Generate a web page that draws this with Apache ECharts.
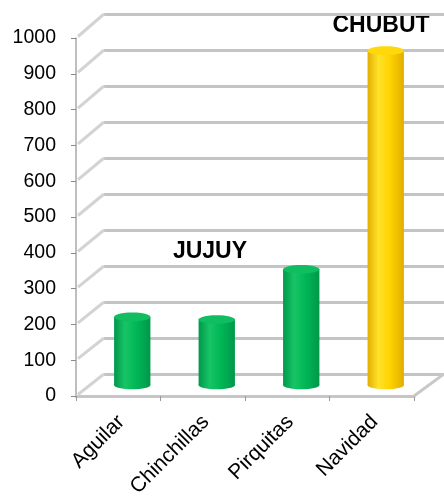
<!DOCTYPE html>
<html>
<head>
<meta charset="utf-8">
<style>html,body{margin:0;padding:0;background:#fff;}#c{width:444px;height:500px;}</style>
<script src="https://cdn.jsdelivr.net/npm/echarts@6/dist/echarts.min.js"></script>
</head>
<body>
<div id="c"></div>
<script>
const categories = ['Aguilar', 'Chinchillas', 'Pirquitas', 'Navidad'];
const values = [190, 183, 323, 934];
const provinces = ['JUJUY', 'JUJUY', 'JUJUY', 'CHUBUT'];
const yTicks = [0, 100, 200, 300, 400, 500, 600, 700, 800, 900, 1000];

// layout / style constants
const FX = 76, FY = 38, W = 338, H = 358, DX = 28, DY = 22, BH = 360;
const FONT = '"Liberation Sans", Arial, sans-serif';
const palette = {
  JUJUY: { dark: '#00984a', mid: '#00b857', light: '#18c466', top: '#10bd60' },
  CHUBUT: { dark: '#e2ae00', mid: '#ffd400', light: '#ffe22a', top: '#ffd80c' }
};

const chart = echarts.init(document.getElementById('c'), null, { renderer: 'canvas' });

function hiddenCat(gi) {
  return { type: 'category', gridIndex: gi, data: categories, axisLine: { show: false }, axisTick: { show: false }, axisLabel: { show: false }, splitLine: { show: false } };
}
function hiddenVal(gi) {
  return { type: 'value', gridIndex: gi, min: 0, max: 1000, interval: 100, axisLine: { show: false }, axisTick: { show: false }, axisLabel: { show: false }, splitLine: { show: false } };
}

const option = {
  animation: false,
  backgroundColor: '#ffffff',
  grid: [
    { left: FX, top: FY, width: W, height: H },
    { left: FX + DX, top: FY + H - DY - BH, width: W + 4, height: BH },
    { left: FX + DX / 2, top: FY - DY / 2, width: W, height: H },
    { left: FX + 3, top: FY, width: W, height: H }
  ],
  xAxis: [
    {
      type: 'category', gridIndex: 0, data: categories,
      axisLine: { show: true, lineStyle: { color: '#c6c6c6', width: 3 } },
      axisTick: { show: true, length: 5, lineStyle: { color: '#9a9a9a', width: 1 } },
      axisLabel: { show: false }, splitLine: { show: false }
    },
    hiddenCat(1),
    hiddenCat(2),
    {
      type: 'category', gridIndex: 3, data: categories,
      axisLine: { show: false }, axisTick: { show: false }, splitLine: { show: false },
      axisLabel: { show: true, rotate: 45, margin: 27, fontSize: 21, color: '#000', fontFamily: FONT }
    }
  ],
  yAxis: [
    {
      type: 'value', gridIndex: 0, min: 0, max: 1000, interval: 100,
      axisLine: { show: true, lineStyle: { color: '#a8a8a8', width: 1.5 } },
      axisTick: { show: true, length: 5, lineStyle: { color: '#8a8a8a', width: 1 } },
      axisLabel: { show: true, fontSize: 19.5, color: '#000', fontFamily: FONT, margin: 20, formatter: v => String(v) },
      splitLine: { show: false }
    },
    {
      type: 'value', gridIndex: 1, min: 0, max: 1000, interval: 100,
      axisLine: { show: false }, axisTick: { show: false }, axisLabel: { show: false },
      splitLine: { show: true, lineStyle: { color: '#c4c4c4', width: 3 } }
    },
    hiddenVal(2),
    hiddenVal(3)
  ],
  series: [
    {
      name: 'frame', type: 'custom', xAxisIndex: 0, yAxisIndex: 0, clip: false, z: 1,
      data: yTicks.map(v => [0, v]),
      renderItem: function (params, api) {
        const v = api.value(1);
        const p = api.coord([api.value(0), v]);
        const bw = api.size([1, 0])[0];
        const left = p[0] - bw / 2;
        const dy = DY + (BH - H) * v / 1000;
        const style = { stroke: '#d3d3d3', lineWidth: 3 };
        const children = [{
          type: 'line', shape: { x1: left + 2, y1: p[1] - 1.5, x2: left + DX, y2: p[1] - dy }, style: style
        }];
        if (v === 0) {
          const right = left + bw * categories.length;
          children.push({ type: 'line', shape: { x1: right, y1: p[1], x2: right + DX + 2, y2: p[1] - dy }, style: { stroke: '#c8c8c8', lineWidth: 3 } });
        }
        return { type: 'group', children: children };
      }
    },
    {
      name: 'bars', type: 'custom', xAxisIndex: 2, yAxisIndex: 2, clip: false, z: 5,
      data: values.map((v, i) => [i, v]),
      renderItem: function (params, api) {
        const i = api.value(0);
        const top = api.coord([i, api.value(1)]);
        const base = api.coord([i, 0]);
        const w = api.size([1, 0])[0] * 0.43;
        const rx = w / 2, ry = w * 0.12;
        const c = palette[provinces[i]];
        const grad = new echarts.graphic.LinearGradient(0, 0, 1, 0, [
          { offset: 0, color: c.dark },
          { offset: 0.3, color: c.light },
          { offset: 0.6, color: c.mid },
          { offset: 1, color: c.dark }
        ]);
        return {
          type: 'group',
          children: [
            { type: 'ellipse', shape: { cx: base[0], cy: base[1], rx: rx, ry: ry }, style: { fill: grad } },
            { type: 'rect', shape: { x: top[0] - rx, y: top[1], width: w, height: base[1] - top[1] }, style: { fill: grad } },
            { type: 'ellipse', shape: { cx: top[0], cy: top[1], rx: rx, ry: ry }, style: { fill: c.top } }
          ]
        };
      }
    }
  ],
  graphic: [
    { type: 'text', x: 210, y: 252, style: { text: 'JUJUY', font: 'bold 23px ' + FONT, fill: '#000', align: 'center', verticalAlign: 'middle' } },
    { type: 'text', x: 381, y: 26, style: { text: 'CHUBUT', font: 'bold 23px ' + FONT, fill: '#000', align: 'center', verticalAlign: 'middle' } }
  ]
};
chart.setOption(option);
</script>
</body>
</html>
